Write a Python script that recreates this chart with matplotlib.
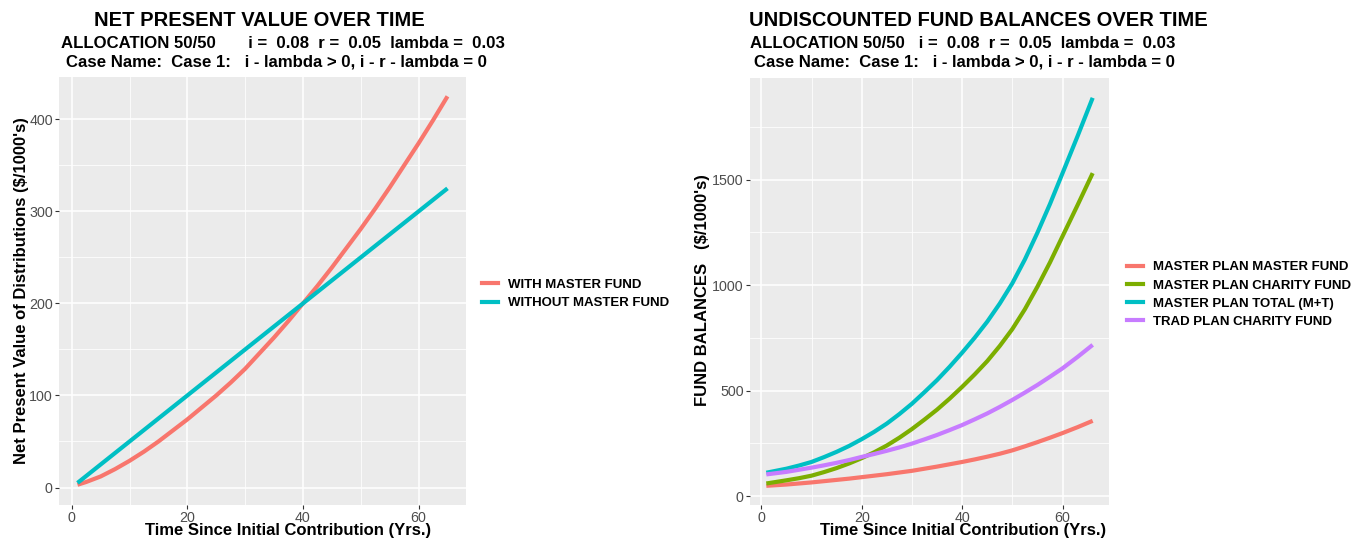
import matplotlib
matplotlib.use("Agg")
import matplotlib.pyplot as plt
from matplotlib.lines import Line2D
from matplotlib.ticker import MultipleLocator

plt.rcParams['font.family'] = ['Liberation Sans', 'DejaVu Sans']

# ---------------- data ----------------
npv_years = [1, 2.5, 5, 7.5, 10, 12.5, 15, 17.5, 20, 22.5, 25, 27.5, 30, 32.5, 35,
             37.5, 40, 42.5, 45, 47.5, 50, 52.5, 55, 57.5, 60, 62.5, 65]
npv_with_master = [3, 6, 12, 20, 29, 39, 50, 62, 74, 87, 100, 114, 129, 146, 163,
                   181, 200, 219, 239, 260, 281, 303, 326, 350, 374, 399, 425]
npv_without_master = [5, 12.5, 25, 37.5, 50, 62.5, 75, 87.5, 100, 112.5, 125, 137.5, 150,
                      162.5, 175, 187.5, 200, 212.5, 225, 237.5, 250, 262.5, 275, 287.5,
                      300, 312.5, 325]

bal_years = [1, 5, 7.5, 10, 12.5, 15, 17.5, 20, 22.5, 25, 27.5, 30, 32.5, 35, 37.5, 40,
             42.5, 45, 47.5, 50, 52.5, 55, 57.5, 60, 63, 66]
master_plan_master = [49, 55, 60, 65, 71, 77, 83, 90, 97, 104, 112, 120, 130, 140, 151,
                      162, 174, 187, 201, 217, 236, 256, 277, 299, 327, 357]
master_plan_charity = [60, 75, 85, 97, 114, 133, 155, 180, 208, 240, 277, 318, 363, 410,
                       462, 518, 577, 640, 712, 792, 886, 993, 1108, 1232, 1380, 1531]
master_plan_total = [111, 130, 145, 162, 185, 210, 238, 270, 305, 344, 389, 438, 493, 550,
                     613, 680, 751, 827, 913, 1009, 1122, 1249, 1385, 1531, 1707, 1888]
trad_plan_charity = [103, 115, 125, 135, 146, 158, 171, 186, 200, 215, 231, 249, 269, 290,
                     313, 337, 364, 392, 423, 456, 491, 527, 566, 606, 660, 717]

left_labels = ["WITH MASTER FUND", "WITHOUT MASTER FUND"]
right_labels = ["MASTER PLAN MASTER FUND", "MASTER PLAN CHARITY FUND",
                "MASTER PLAN TOTAL (M+T)", "TRAD PLAN CHARITY FUND"]

RED, GREEN, CYAN, PURPLE = "#F8766D", "#7CAE00", "#00BFC4", "#C77CFF"
PANEL = "#EBEBEB"
TICKC = "#4D4D4D"

W, H = 1354, 540
fig = plt.figure(figsize=(W / 100, H / 100), dpi=100)


def fx(px):
    return px / W


def fy(py):
    return 1 - py / H


def style(ax, xmaj, ymaj):
    ax.set_facecolor(PANEL)
    for s in ax.spines.values():
        s.set_visible(False)
    ax.xaxis.set_major_locator(MultipleLocator(xmaj))
    ax.xaxis.set_minor_locator(MultipleLocator(xmaj / 2))
    ax.yaxis.set_major_locator(MultipleLocator(ymaj))
    ax.yaxis.set_minor_locator(MultipleLocator(ymaj / 2))
    ax.grid(which='major', color='white', linewidth=1.1)
    ax.grid(which='minor', color='white', linewidth=0.55)
    ax.set_axisbelow(True)
    ax.tick_params(which='major', length=3, color='#333333', labelsize=10.3,
                   labelcolor=TICKC, pad=1.5)
    ax.tick_params(which='minor', length=0)


LW = 3.0

# ---------------- left panel ----------------
ax1 = fig.add_axes([fx(59), fy(505), fx(466 - 59), (505 - 77) / H])
ax1.plot(npv_years, npv_with_master, color=RED, lw=LW, solid_capstyle='butt')
ax1.plot(npv_years, npv_without_master, color=CYAN, lw=LW, solid_capstyle='butt')
ax1.set_xlim(-2.2, 68.2)
ax1.set_ylim(-19, 446)
style(ax1, 20, 100)

# ---------------- right panel ----------------
ax2 = fig.add_axes([fx(750), fy(505), fx(1109 - 750), (505 - 78) / H])
ax2.plot(bal_years, master_plan_master, color=RED, lw=LW, solid_capstyle='butt')
ax2.plot(bal_years, master_plan_charity, color=GREEN, lw=LW, solid_capstyle='butt')
ax2.plot(bal_years, master_plan_total, color=CYAN, lw=LW, solid_capstyle='butt')
ax2.plot(bal_years, trad_plan_charity, color=PURPLE, lw=LW, solid_capstyle='butt')
ax2.set_xlim(-2.25, 69.25)
ax2.set_ylim(-42, 1982)
style(ax2, 20, 500)

# ---------------- titles ----------------
tkw = dict(ha='center', va='center', fontweight='bold', color='black')
fig.text(fx(259), fy(20), "NET PRESENT VALUE OVER TIME", fontsize=14.5, **tkw)
fig.text(fx(283), fy(43), "ALLOCATION 50/50       i =  0.08  r =  0.05  lambda =  0.03",
         fontsize=12.1, **tkw)
fig.text(fx(276), fy(62), "Case Name:  Case 1:   i - lambda > 0, i - r - lambda = 0",
         fontsize=12.1, **tkw)

fig.text(fx(978), fy(20), "UNDISCOUNTED FUND BALANCES OVER TIME", fontsize=14.5, **tkw)
fig.text(fx(963), fy(43), "ALLOCATION 50/50   i =  0.08  r =  0.05  lambda =  0.03",
         fontsize=12.1, **tkw)
fig.text(fx(965), fy(62), "Case Name:  Case 1:   i - lambda > 0, i - r - lambda = 0",
         fontsize=12.1, **tkw)

# axis titles
fig.text(fx(288), fy(531), "Time Since Initial Contribution (Yrs.)", fontsize=12, **tkw)
fig.text(fx(963), fy(531), "Time Since Initial Contribution (Yrs.)", fontsize=12, **tkw)
fig.text(fx(22), fy(291), "Net Present Value of Distributions ($/1000's)", fontsize=12,
         rotation=90, **tkw)
fig.text(fx(703), fy(290), "FUND BALANCES   ($/1000's)", fontsize=12, rotation=90, **tkw)


# ---------------- legends ----------------
def make_legend(colors, labels, x_px, y_px):
    handles = [Line2D([0], [0], color=c, lw=LW) for c in colors]
    leg = fig.legend(handles, labels, loc='center left',
                     bbox_to_anchor=(fx(x_px), fy(y_px)),
                     frameon=False, handlelength=1.2, handletextpad=0.8,
                     labelspacing=0.45, borderaxespad=0, borderpad=0,
                     prop={'weight': 'bold', 'size': 9.5})
    return leg


make_legend([RED, CYAN], left_labels, 482, 294)
make_legend([RED, GREEN, CYAN, PURPLE], right_labels, 1127, 294.5)

fig.savefig("out.png", dpi=100, facecolor='white')
